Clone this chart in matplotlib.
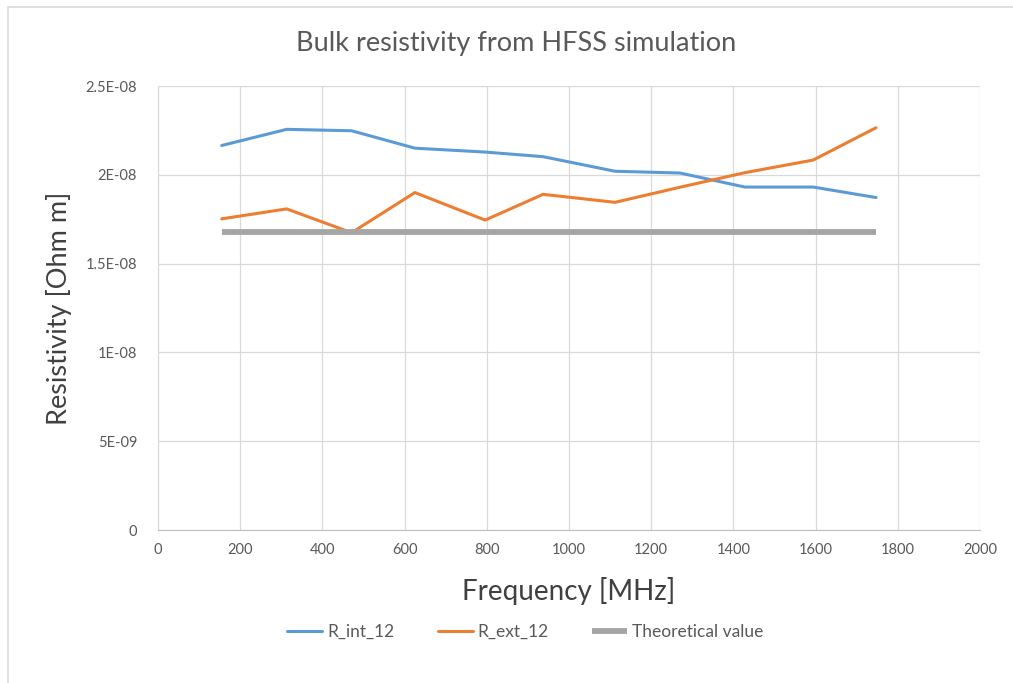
import matplotlib
matplotlib.use('Agg')
import matplotlib.pyplot as plt
from matplotlib.patches import Rectangle

plt.rcParams['font.family'] = ['Lato', 'DejaVu Sans']

# frequency points (MHz)
freq = [155, 313, 471, 625, 796, 937, 1112, 1270, 1428, 1594, 1747]
# resistivity values (Ohm m)
r_int = [2.165e-8, 2.256e-8, 2.248e-8, 2.150e-8, 2.128e-8, 2.102e-8,
         2.020e-8, 2.010e-8, 1.931e-8, 1.931e-8, 1.872e-8]
r_ext = [1.752e-8, 1.808e-8, 1.674e-8, 1.900e-8, 1.745e-8, 1.890e-8,
         1.845e-8, 1.930e-8, 2.012e-8, 2.083e-8, 2.265e-8]
theory = [1.68e-8] * len(freq)

yticks = [0, 5e-9, 1e-8, 1.5e-8, 2e-8, 2.5e-8]
ytick_labels = ['0', '5E-09', '1E-08', '1.5E-08', '2E-08', '2.5E-08']
xticks = list(range(0, 2001, 200))

W, H = 1013, 683
fig = plt.figure(figsize=(W / 100, H / 100), dpi=100)
ax = fig.add_axes([158 / W, 1 - 530 / H, (980 - 158) / W, (530 - 86) / H])

# outer chart frame (top and left edges visible)
fig.patches.append(Rectangle((8 / W, -0.01), 1.2, 1 - 7 / H + 0.01,
                             transform=fig.transFigure, fill=False,
                             edgecolor='#d9d9d9', lw=1.2))

ax.plot(freq, r_int, color='#5b9bd5', lw=2.2, label='R_int_12', solid_capstyle='round')
ax.plot(freq, r_ext, color='#ed7d31', lw=2.2, label='R_ext_12', solid_capstyle='round')
ax.plot(freq, theory, color='#a5a5a5', lw=4.2, label='Theoretical value', solid_capstyle='butt')

ax.set_xlim(0, 2000)
ax.set_ylim(0, 2.5e-8)
ax.set_xticks(xticks)
ax.set_yticks(yticks)
ax.set_yticklabels(ytick_labels)
ax.grid(True, color='#d9d9d9', lw=0.9)
ax.set_axisbelow(True)
for s in ['top', 'right']:
    ax.spines[s].set_visible(False)
ax.spines['left'].set_color('#d9d9d9')
ax.spines['bottom'].set_color('#bfbfbf')
ax.tick_params(length=0, labelsize=10.5, labelcolor='#595959')
ax.tick_params(axis='y', pad=15)
ax.tick_params(axis='x', pad=9)

fig.text(516 / W, 1 - 43 / H, 'Bulk resistivity from HFSS simulation',
         fontsize=19.5, color='#595959', ha='center', va='center')
ax.set_xlabel('Frequency [MHz]', fontsize=20, color='#404040', labelpad=15)
ax.set_ylabel('Resistivity [Ohm m]', fontsize=19.5, color='#404040', labelpad=10)

ax.legend(loc='center', bbox_to_anchor=(0.447, -0.23), ncol=3,
          frameon=False, fontsize=12.5, labelcolor='#595959',
          handlelength=2.0, columnspacing=2.5, handletextpad=0.3)

fig.savefig('out.png', dpi=100)
